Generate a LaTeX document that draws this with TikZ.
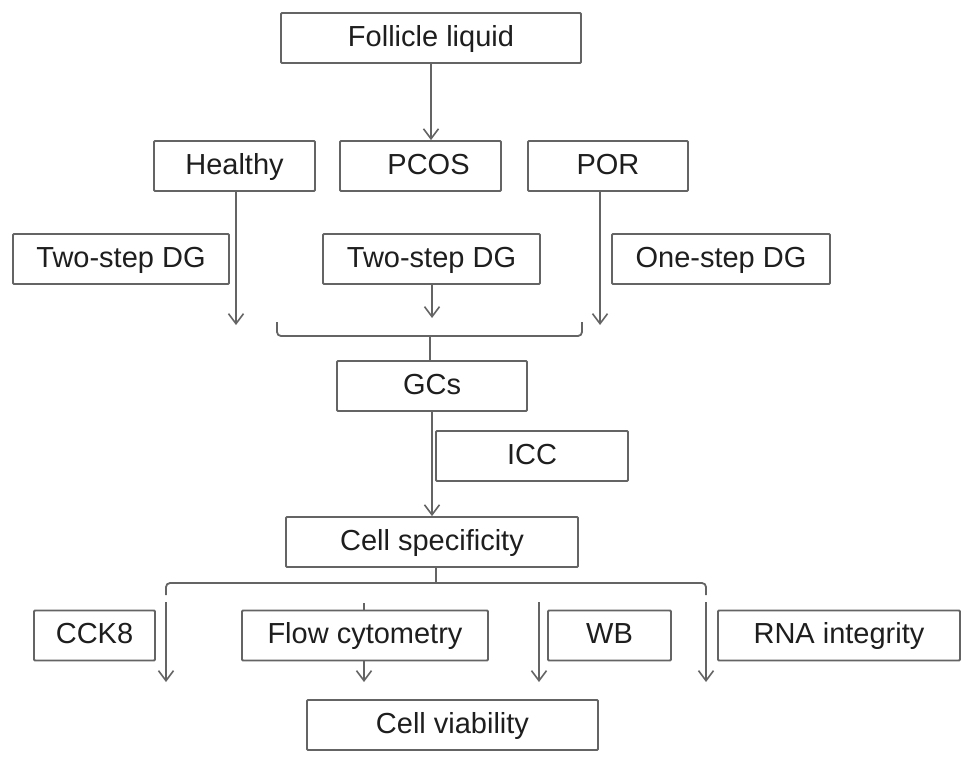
\documentclass[tikz,border=0pt]{standalone}
\usepackage{fontspec}
\setmainfont{Liberation Sans}
\usetikzlibrary{arrows.meta}
\definecolor{LineGrey}{RGB}{100,100,100}
\definecolor{TextBlack}{RGB}{30,30,30}

\begin{document}
\begin{tikzpicture}[x=1pt, y=-1pt,
    box/.style={shape=rectangle, draw=LineGrey, line width=1.8pt, rounded corners=1pt, minimum height=50pt, inner sep=0pt, text height=21pt, text depth=5pt, text=TextBlack, font=\fontsize{29}{34}\selectfont},
    link/.style={draw=LineGrey, line width=1.8pt},
    arr/.style={link, -{Straight Barb[length=10pt, width=15pt, line width=1.6pt]}}]
    \useasboundingbox (0,0) rectangle (969,763);

    % boxes
    \node[box, minimum width=300pt] (FL)  at (431,38)      {Follicle liquid};
    \node[box, minimum width=161pt] (HE)  at (234.5,166)   {Healthy};
    \node[box, minimum width=161pt] (PC)  at (420.5,166)   {\hspace{16pt}PCOS};
    \node[box, minimum width=160pt] (PO)  at (608,166)     {POR};
    \node[box, minimum width=216pt] (D1)  at (121,259)     {Two-step DG};
    \node[box, minimum width=217pt] (D2)  at (431.5,259)   {Two-step DG};
    \node[box, minimum width=218pt] (D3)  at (721,259)     {One-step DG};
    \node[box, minimum width=190pt] (GC)  at (432,386)     {GCs};
    \node[box, minimum width=192pt] (ICC) at (532,456)     {ICC};
    \node[box, minimum width=292pt] (CS)  at (432,542)     {Cell specificity};
    \node[box, minimum width=121pt] (CK)  at (94.5,635.5)  {CCK8};
    \node[box, minimum width=246pt] (FC)  at (365,635.5)   {Flow cytometry};
    \node[box, minimum width=123pt] (WB)  at (609.5,635.5) {WB};
    \node[box, minimum width=242pt] (RNA) at (839,635.5)   {RNA integrity};
    \node[box, minimum width=291pt] (CV)  at (452.5,725)   {Cell viability};

    % free ends
    \coordinate (HEend) at (236,325);
    \coordinate (POend) at (600,325);
    \coordinate (D2end) at (432,318);
    \coordinate (BrL)   at (277,322);
    \coordinate (BrR)   at (582,322);
    \coordinate (BrM)   at (430,336);
    \coordinate (SpM)   at (436,583);
    \coordinate (SpL)   at (166,595);
    \coordinate (SpR)   at (706,595);
    \coordinate (FCtop) at (364,603);
    \coordinate (FCend) at (364,682);

    % upper part
    \path[arr] (FL.south) -- (PC.north -| FL.south);
    \path[arr] (HE.south -| HEend) -- (HEend);
    \path[arr] (PO.south -| POend) -- (POend);
    \path[arr] (D2.south -| D2end) -- (D2end);
    \path[link, rounded corners=4pt] (BrL) -- (BrL |- BrM) -- (BrR |- BrM) -- (BrR);
    \path[link] (BrM) -- (GC.north -| BrM);
    \path[arr] (GC.south) -- (CS.north -| GC.south);

    % lower part
    \path[link] (CS.south -| SpM) -- (SpM);
    \path[link, rounded corners=4pt] (SpL) -- (SpL |- SpM) -- (SpR |- SpM) -- (SpR);
    \path[link] (FCtop) -- (FC.north -| FCtop);
    \path[arr] (FC.south -| FCtop) -- (FCend);
    \foreach \x/\n in {166/1, 539/2, 706/3} {
        \coordinate (T\n) at (\x,602);
        \coordinate (E\n) at (\x,682);
        \path[arr] (T\n) -- (E\n);
    }
\end{tikzpicture}
\end{document}
